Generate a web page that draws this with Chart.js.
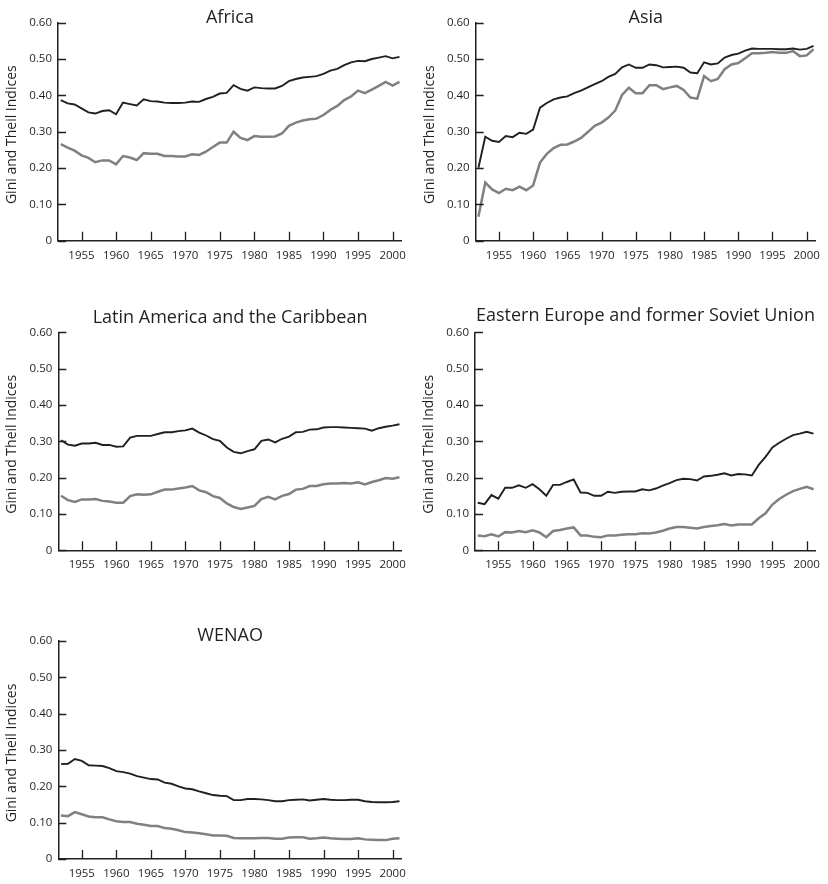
<!DOCTYPE html>
<html>
<head>
<meta charset="utf-8">
<title>Gini and Theil Indices by region, 1952-2001</title>
<script src="https://cdn.jsdelivr.net/npm/chart.js@4.4.1/dist/chart.umd.min.js"></script>
<style>
  html, body { margin: 0; padding: 0; background: #ffffff; }
  body { width: 828px; height: 884px; position: relative; overflow: hidden; }
  canvas { position: absolute; }
</style>
</head>
<body>
<script>
// ---- data -------------------------------------------------------------
const years = [
  1952, 1953, 1954, 1955, 1956, 1957, 1958, 1959, 1960, 1961,
  1962, 1963, 1964, 1965, 1966, 1967, 1968, 1969, 1970, 1971,
  1972, 1973, 1974, 1975, 1976, 1977, 1978, 1979, 1980, 1981,
  1982, 1983, 1984, 1985, 1986, 1987, 1988, 1989, 1990, 1991,
  1992, 1993, 1994, 1995, 1996, 1997, 1998, 1999, 2000, 2001
];

const xTickYears = [1955, 1960, 1965, 1970, 1975, 1980, 1985, 1990, 1995, 2000];
const yTickValues = [0, 0.1, 0.2, 0.3, 0.4, 0.5, 0.6];
const yTickLabels = ['0', '0.10', '0.20', '0.30', '0.40', '0.50', '0.60'];

const africaGini = [
  0.387, 0.378, 0.375, 0.364, 0.353, 0.350, 0.357, 0.359, 0.348, 0.380,
  0.376, 0.372, 0.389, 0.384, 0.383, 0.380, 0.379, 0.379, 0.380, 0.383,
  0.382, 0.390, 0.396, 0.405, 0.407, 0.428, 0.418, 0.413, 0.422, 0.420,
  0.419, 0.419, 0.426, 0.439, 0.445, 0.449, 0.451, 0.453, 0.459, 0.468,
  0.473, 0.483, 0.491, 0.495, 0.494, 0.500, 0.504, 0.508, 0.502, 0.506
];
const africaTheil = [
  0.266, 0.256, 0.248, 0.235, 0.228, 0.216, 0.221, 0.221, 0.210, 0.233,
  0.229, 0.222, 0.241, 0.239, 0.239, 0.233, 0.233, 0.232, 0.232, 0.238,
  0.236, 0.245, 0.258, 0.270, 0.270, 0.300, 0.283, 0.277, 0.288, 0.286,
  0.286, 0.287, 0.295, 0.316, 0.325, 0.331, 0.334, 0.336, 0.346, 0.360,
  0.371, 0.387, 0.397, 0.413, 0.406, 0.416, 0.426, 0.437, 0.427, 0.437
];

const asiaGini = [
  0.201, 0.286, 0.275, 0.272, 0.288, 0.285, 0.297, 0.294, 0.306, 0.366,
  0.379, 0.389, 0.394, 0.397, 0.406, 0.413, 0.422, 0.431, 0.439, 0.451,
  0.459, 0.477, 0.485, 0.476, 0.476, 0.485, 0.483, 0.477, 0.478, 0.479,
  0.476, 0.463, 0.461, 0.491, 0.485, 0.488, 0.504, 0.511, 0.515, 0.523,
  0.529, 0.528, 0.528, 0.528, 0.527, 0.527, 0.529, 0.526, 0.528, 0.536
];
const asiaTheil = [
  0.066, 0.160, 0.141, 0.131, 0.143, 0.139, 0.149, 0.139, 0.152, 0.215,
  0.239, 0.255, 0.264, 0.265, 0.273, 0.283, 0.299, 0.316, 0.325, 0.339,
  0.358, 0.401, 0.421, 0.406, 0.406, 0.428, 0.428, 0.417, 0.422, 0.426,
  0.415, 0.394, 0.391, 0.453, 0.439, 0.445, 0.472, 0.485, 0.489, 0.502,
  0.516, 0.516, 0.517, 0.519, 0.517, 0.517, 0.522, 0.508, 0.510, 0.527
];

const latamGini = [
  0.303, 0.291, 0.288, 0.294, 0.294, 0.296, 0.290, 0.290, 0.285, 0.286,
  0.310, 0.315, 0.315, 0.315, 0.320, 0.325, 0.325, 0.328, 0.330, 0.335,
  0.324, 0.316, 0.306, 0.301, 0.283, 0.271, 0.267, 0.273, 0.278, 0.301,
  0.305, 0.297, 0.307, 0.313, 0.325, 0.326, 0.332, 0.333, 0.338, 0.339,
  0.339, 0.338, 0.337, 0.336, 0.335, 0.329, 0.336, 0.340, 0.343, 0.347
];
const latamTheil = [
  0.150, 0.138, 0.133, 0.140, 0.140, 0.141, 0.136, 0.134, 0.131, 0.131,
  0.149, 0.154, 0.153, 0.154, 0.161, 0.167, 0.167, 0.170, 0.173, 0.177,
  0.165, 0.160, 0.149, 0.144, 0.129, 0.119, 0.114, 0.118, 0.122, 0.141,
  0.147, 0.140, 0.150, 0.155, 0.167, 0.169, 0.177, 0.177, 0.182, 0.184,
  0.184, 0.185, 0.184, 0.187, 0.181, 0.188, 0.193, 0.199, 0.197, 0.201
];

const eeGini = [
  0.131, 0.127, 0.152, 0.142, 0.172, 0.172, 0.179, 0.172, 0.182, 0.168,
  0.150, 0.180, 0.180, 0.188, 0.195, 0.159, 0.158, 0.150, 0.150, 0.161,
  0.158, 0.161, 0.162, 0.162, 0.168, 0.165, 0.170, 0.178, 0.185, 0.193,
  0.197, 0.196, 0.192, 0.203, 0.205, 0.208, 0.212, 0.206, 0.210, 0.209,
  0.206, 0.235, 0.257, 0.283, 0.296, 0.307, 0.317, 0.321, 0.326, 0.321
];
const eeTheil = [
  0.041, 0.039, 0.044, 0.038, 0.050, 0.049, 0.053, 0.050, 0.055, 0.049,
  0.036, 0.053, 0.056, 0.060, 0.063, 0.041, 0.041, 0.037, 0.036, 0.041,
  0.041, 0.043, 0.044, 0.044, 0.047, 0.046, 0.049, 0.054, 0.060, 0.064,
  0.064, 0.062, 0.060, 0.064, 0.067, 0.069, 0.072, 0.068, 0.071, 0.071,
  0.071, 0.088, 0.102, 0.126, 0.141, 0.153, 0.163, 0.169, 0.175, 0.168
];

const wenaoGini = [
  0.261, 0.262, 0.275, 0.270, 0.258, 0.257, 0.256, 0.250, 0.242, 0.239,
  0.235, 0.228, 0.224, 0.220, 0.219, 0.210, 0.207, 0.200, 0.194, 0.192,
  0.186, 0.181, 0.176, 0.174, 0.173, 0.162, 0.162, 0.165, 0.165, 0.164,
  0.162, 0.159, 0.159, 0.162, 0.163, 0.164, 0.161, 0.163, 0.165, 0.163,
  0.162, 0.162, 0.163, 0.163, 0.159, 0.157, 0.156, 0.156, 0.157, 0.159
];
const wenaoTheil = [
  0.120, 0.118, 0.129, 0.123, 0.117, 0.115, 0.115, 0.109, 0.104, 0.102,
  0.102, 0.097, 0.094, 0.091, 0.091, 0.085, 0.083, 0.079, 0.074, 0.073,
  0.071, 0.068, 0.065, 0.065, 0.064, 0.058, 0.057, 0.057, 0.057, 0.058,
  0.058, 0.056, 0.056, 0.059, 0.060, 0.060, 0.056, 0.057, 0.059, 0.057,
  0.056, 0.055, 0.055, 0.057, 0.054, 0.053, 0.052, 0.052, 0.056, 0.057
];

const regionTitles = [
  'Africa',
  'Asia',
  'Latin America and the Caribbean',
  'Eastern Europe and former Soviet Union',
  'WENAO'
];
const giniSeries = [africaGini, asiaGini, latamGini, eeGini, wenaoGini];
const theilSeries = [africaTheil, asiaTheil, latamTheil, eeTheil, wenaoTheil];
const yAxisTitle = 'Gini and Theil Indices';

// ---- layout & style ---------------------------------------------------
const INK = '#231f20';
const GREY = '#808080';
const FONT = '"Open Sans", "DejaVu Sans", sans-serif';
const X_MIN = 1951.6;
const X_MAX = 2001.35;

// canvas box plus the plot rectangle inside it (page pixels)
const panelBoxes = [
  { left: 0,   top: 0,   width: 414, height: 280, plotL: 58,    plotT: 22.7,  plotR: 404,   plotB: 240.7, titleGap: 0 },
  { left: 414, top: 0,   width: 414, height: 280, plotL: 475.7, plotT: 22.7,  plotR: 821.7, plotB: 240.7, titleGap: 0 },
  { left: 0,   top: 285, width: 414, height: 300, plotL: 58.3,  plotT: 332.3, plotR: 404.3, plotB: 550.3, titleGap: 9 },
  { left: 414, top: 285, width: 414, height: 300, plotL: 475,   plotT: 332.3, plotR: 821,   plotB: 550.3, titleGap: 11 },
  { left: 0,   top: 600, width: 414, height: 284, plotL: 58.3,  plotT: 641,   plotR: 404.3, plotB: 859,   titleGap: 0 }
];

// inward tick marks, panel title and rotated axis title
const panelDecor = {
  id: 'panelDecor',
  afterDraw(chart, args, opts) {
    const { ctx, chartArea: a, scales: { x, y } } = chart;
    ctx.save();
    ctx.strokeStyle = INK;
    ctx.lineWidth = 1.3;
    ctx.beginPath();
    x.ticks.forEach(t => {
      const px = Math.round(x.getPixelForValue(t.value)) + 0.5;
      ctx.moveTo(px, a.bottom);
      ctx.lineTo(px, a.bottom - 9);
    });
    y.ticks.forEach(t => {
      const py = Math.round(y.getPixelForValue(t.value)) + 0.5;
      ctx.moveTo(a.left, py);
      ctx.lineTo(a.left + 8, py);
    });
    ctx.stroke();

    ctx.fillStyle = INK;
    ctx.textAlign = 'center';
    ctx.textBaseline = 'alphabetic';
    ctx.font = '18px ' + FONT;
    ctx.fillText(opts.title, (a.left + a.right) / 2, a.top - opts.titleGap);

    ctx.translate(a.left - 46, (a.top + a.bottom) / 2 + 3);
    ctx.rotate(-Math.PI / 2);
    ctx.font = '14px ' + FONT;
    ctx.textBaseline = 'middle';
    ctx.fillText(opts.yTitle, 0, 0);
    ctx.restore();
  }
};

function toPoints(values) {
  return values.map((v, i) => ({ x: years[i], y: v }));
}

panelBoxes.forEach((box, i) => {
  const canvas = document.createElement('canvas');
  canvas.width = box.width;
  canvas.height = box.height;
  canvas.style.left = box.left + 'px';
  canvas.style.top = box.top + 'px';
  canvas.style.width = box.width + 'px';
  canvas.style.height = box.height + 'px';
  document.body.appendChild(canvas);

  const yAxisWidth = box.plotL - box.left;
  const xAxisHeight = box.top + box.height - box.plotB;

  new Chart(canvas, {
    type: 'line',
    data: {
      datasets: [
        {
          label: 'Gini',
          data: toPoints(giniSeries[i]),
          borderColor: INK,
          borderWidth: 1.9,
          pointRadius: 0,
          tension: 0,
          fill: false
        },
        {
          label: 'Theil',
          data: toPoints(theilSeries[i]),
          borderColor: GREY,
          borderWidth: 2.5,
          pointRadius: 0,
          tension: 0,
          fill: false
        }
      ]
    },
    options: {
      responsive: false,
      animation: false,
      events: [],
      layout: {
        padding: {
          top: box.plotT - box.top,
          right: box.left + box.width - box.plotR,
          left: 0,
          bottom: 0
        }
      },
      plugins: {
        legend: { display: false },
        tooltip: { enabled: false },
        panelDecor: { title: regionTitles[i], yTitle: yAxisTitle, titleGap: box.titleGap }
      },
      scales: {
        x: {
          type: 'linear',
          min: X_MIN,
          max: X_MAX,
          afterBuildTicks: s => { s.ticks = xTickYears.map(v => ({ value: v })); },
          afterFit: s => { s.height = xAxisHeight; },
          grid: { drawOnChartArea: false, drawTicks: false },
          border: { display: true, color: INK, width: 1.5 },
          ticks: {
            padding: 8,
            color: INK,
            autoSkip: false,
            maxRotation: 0,
            font: { family: FONT, size: 11.5 },
            callback: v => String(v)
          }
        },
        y: {
          type: 'linear',
          min: 0,
          max: 0.6,
          afterBuildTicks: s => { s.ticks = yTickValues.map(v => ({ value: v })); },
          afterFit: s => { s.width = yAxisWidth; },
          grid: { drawOnChartArea: false, drawTicks: false },
          border: { display: true, color: INK, width: 1.5 },
          ticks: {
            padding: 6,
            color: INK,
            font: { family: FONT, size: 11.5 },
            callback: v => yTickLabels[yTickValues.indexOf(v)]
          }
        }
      }
    },
    plugins: [panelDecor]
  });
});
</script>
</body>
</html>
